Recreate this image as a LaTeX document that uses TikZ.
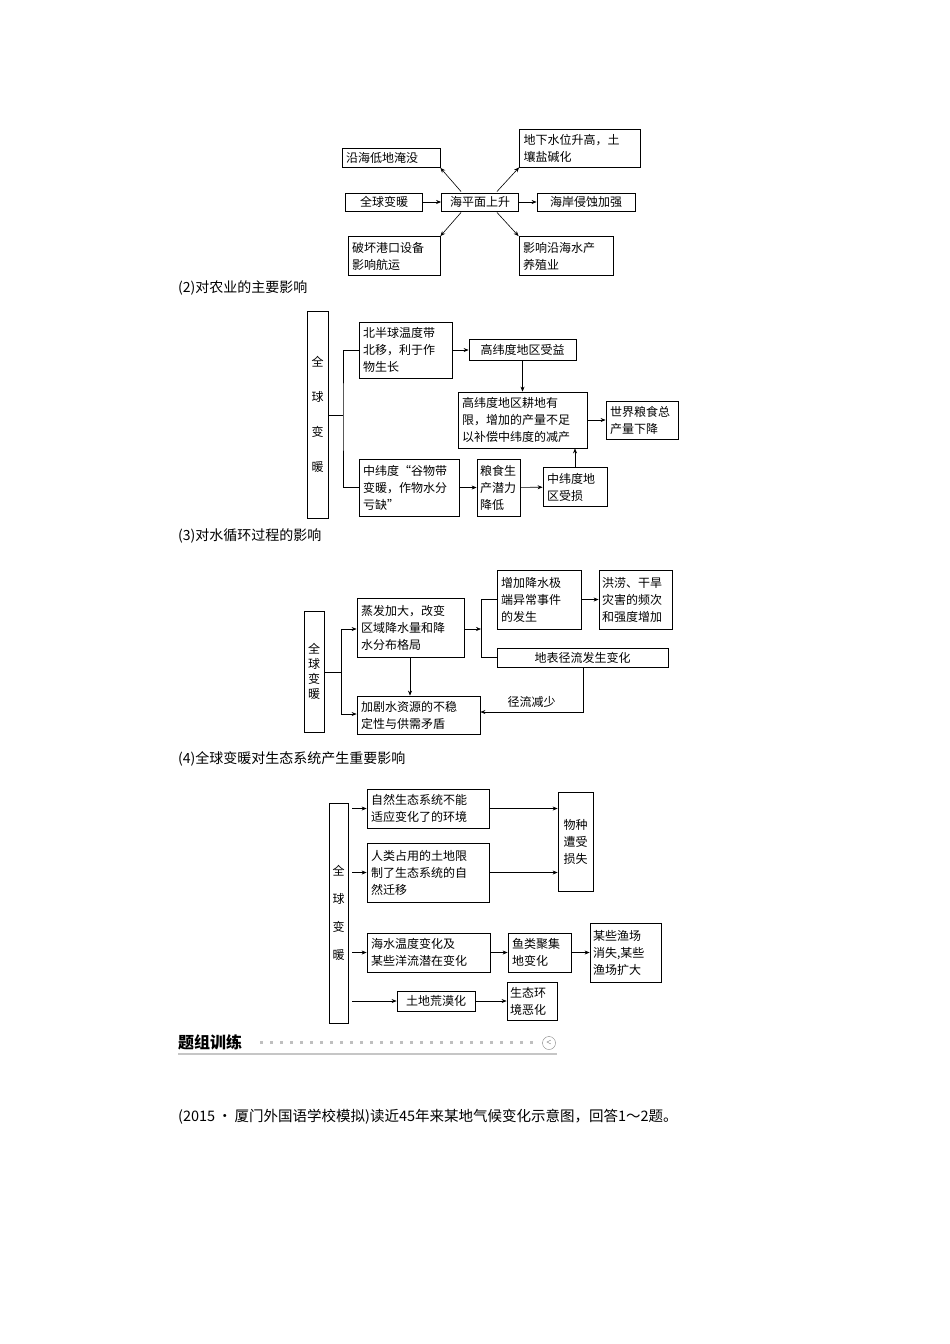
\documentclass[tikz,border=0pt]{standalone}
\usepackage{fontspec}
\setmainfont{Liberation Serif}
\newfontfamily\cjk{Noto Sans CJK SC}
\usetikzlibrary{arrows.meta}
\newcommand{\dg}{\cjk\fontsize{12}{17}\selectfont}
\tikzset{
 bx/.style={draw, line width=0.8pt, inner xsep=4pt, inner ysep=0pt, align=left, font=\dg},
 ar/.style={line width=0.6pt, -{Stealth[length=5pt,width=4pt]}},
 ln/.style={line width=0.6pt},
 captxt/.style={anchor=west, font=\cjk\fontsize{14}{17}\selectfont, inner sep=0}
}
\begin{document}
\begin{tikzpicture}[x=1pt,y=-1pt]
\useasboundingbox (0,0) rectangle (950,1344);
% ---- diagram 1
\node[bx,minimum width=98,minimum height=19,text width=90] (a1) at (391,158) {沿海低地淹没};
\node[bx,minimum width=121,minimum height=38,text width=113] (a2) at (580,148) {地下水位升高，土\\壤盐碱化};
\node[bx,minimum width=77,minimum height=18,align=center] (a3) at (384,202) {全球变暖};
\node[bx,minimum width=77,minimum height=18,align=center] (a4) at (480,202) {海平面上升};
\node[bx,minimum width=98,minimum height=18,align=center] (a5) at (586,202) {海岸侵蚀加强};
\node[bx,minimum width=92,minimum height=39,text width=84] (a6) at (394,256) {破坏港口设备\\影响航运};
\node[bx,minimum width=94,minimum height=39,text width=86] (a7) at (566,256) {影响沿海水产\\养殖业};
\draw[ar] (a3) -- (a4);
\draw[ar] (a4) -- (a5);
\draw[ar] (a4.north west)++(20,-1) -- (a1.south east);
\draw[ar] (a4.north east)++(-22,-1) -- (a2.south west);
\draw[ar] (a4.south west)++(20,1) -- (a6.north east);
\draw[ar] (a4.south east)++(-22,1) -- (a7.north west);
\node[captxt] (c2) at (178,288) {(2)对农业的主要影响};
% ---- diagram 2
\node[bx,minimum width=21,minimum height=207,align=center,inner xsep=0] (b0) at (317.5,414.5) {全\\[18pt]球\\[18pt]变\\[18pt]暖};
\node[bx,minimum width=93,minimum height=56,text width=85] (b1) at (405.5,350) {北半球温度带\\北移，利于作\\物生长};
\node[bx,minimum width=107,minimum height=21,align=center] (b2) at (522.5,350) {高纬度地区受益};
\node[bx,minimum width=129,minimum height=56,text width=121] (b3) at (522.5,420) {高纬度地区耕地有\\限，增加的产量不足\\以补偿中纬度的减产};
\node[bx,minimum width=72,minimum height=38,text width=64] (b4) at (642,420) {世界粮食总\\产量下降};
\node[bx,minimum width=100,minimum height=57,text width=92] (b5) at (409,487.5) {中纬度“谷物带\\变暖，作物水分\\亏缺”};
\node[bx,minimum width=43,minimum height=57,text width=37,inner xsep=3pt] (b6) at (498.5,487.5) {粮食生\\产潜力\\降低};
\node[bx,minimum width=64,minimum height=39,text width=56] (b7) at (575,487) {中纬度地\\区受损};
\coordinate (bt) at (343,415);
\draw[ln] (b0.east |- bt) -- (bt);
\draw[ln] (b1.west) -| (bt) |- (b5.west);
\draw[ar] (b1) -- (b2);
\draw[ar] (b2) -- (b3);
\draw[ar] (b3) -- (b4);
\draw[ar] (b5) -- (b6);
\draw[ar] (b6) -- (b7);
\draw[ar] (b7) -- (b7 |- b3.south);
\node[captxt] (c3) at (178,536) {(3)对水循环过程的影响};
% ---- diagram 3
\node[bx,minimum width=20,minimum height=121,align=center,inner xsep=0,font=\cjk\fontsize{12}{15}\selectfont] (d0) at (314,671.5) {全\\球\\变\\暖};
\node[bx,minimum width=107,minimum height=59,text width=99] (d1) at (410.5,627.5) {蒸发加大，改变\\区域降水量和降\\水分布格局};
\node[bx,minimum width=84,minimum height=59,text width=76] (d2) at (539,599.5) {增加降水极\\端异常事件\\的发生};
\node[bx,minimum width=73,minimum height=59,text width=67,inner xsep=3pt] (d3) at (635.5,599.5) {洪涝、干旱\\灾害的频次\\和强度增加};
\node[bx,minimum width=171,minimum height=19,align=center] (d4) at (582.5,657.5) {地表径流发生变化};
\node[bx,minimum width=123,minimum height=38,text width=115] (d5) at (418.5,715) {加剧水资源的不稳\\定性与供需矛盾};
\coordinate (dt) at (341,672);
\coordinate (dj) at (481,629);
\draw[ln] (d0.east |- dt) -- (dt);
\draw[ar] (dt) |- (d1.west |- 0,629);
\draw[ar] (dt) |- (d5.west |- 0,714);
\draw[ar] (d1.east |- dj) -- (dj);
\draw[ln] (dj |- d2.west) -- (dj |- d4.west);
\draw[ln] (dj |- d2.west) -- (d2.west);
\draw[ln] (dj |- d4.west) -- (d4.west);
\draw[ar] (d2) -- (d3);
\draw[ar] (d1.south -| 410,0) -- (d5.north -| 410,0);
\coordinate (dr) at (583,667);
\draw[ar] (dr) |- node[pos=0.75,above=1pt,font=\dg] {径流减少} (d5.east |- 0,712);
\node[captxt] (c4) at (178,759) {(4)全球变暖对生态系统产生重要影响};
% ---- diagram 4
\node[bx,minimum width=19,minimum height=220,align=center,inner xsep=0] (e0) at (338.5,913) {全\\[11pt]球\\[11pt]变\\[11pt]暖};
\node[bx,minimum width=122,minimum height=39,text width=114] (e1) at (428,808.5) {自然生态系统不能\\适应变化了的环境};
\node[bx,minimum width=122,minimum height=59,text width=114] (e2) at (428,872.5) {人类占用的土地限\\制了生态系统的自\\然迁移};
\node[bx,minimum width=35,minimum height=99,align=center,inner xsep=0] (e3) at (575.5,841.5) {物种\\遭受\\损失};
\node[bx,minimum width=123,minimum height=39,text width=115] (e4) at (428.5,952.5) {海水温度变化及\\某些洋流潜在变化};
\node[bx,minimum width=63,minimum height=39,text width=55] (e5) at (539.5,952.5) {鱼类聚集\\地变化};
\node[bx,minimum width=71,minimum height=59,text width=65,inner xsep=3pt] (e6) at (625.5,952.5) {某些渔场\\消失,某些\\渔场扩大};
\node[bx,minimum width=78,minimum height=20,align=center] (e7) at (436,1001) {土地荒漠化};
\node[bx,minimum width=50,minimum height=38,text width=44,inner xsep=3pt] (e8) at (532,1001) {生态环\\境恶化};
\draw[ar] (e0.east |- e1.west) ++(4,0) -- (e1.west);
\draw[ar] (e0.east |- e2.west) ++(4,0) -- (e2.west);
\draw[ar] (e0.east |- e4.west) ++(4,0) -- (e4.west);
\draw[ar] (e0.east |- e7.west) ++(4,0) -- (e7.west);
\draw[ar] (e1.east) -- (e3.west |- e1.east);
\draw[ar] (e2.east) -- (e3.west |- e2.east);
\draw[ar] (e4) -- (e5);
\draw[ar] (e5) -- (e6);
\draw[ar] (e7) -- (e8);
% ---- heading
\node[anchor=west,inner sep=0,font=\cjk\bfseries\fontsize{16}{18}\selectfont] (h) at (178,1042) {题组训练};
\foreach \i in {0,...,27} {\fill[gray!50] (260+\i*10,1041) rectangle ++(3,3);}
\node[draw=gray,circle,inner sep=0,minimum size=13,font=\fontsize{9}{9}\selectfont,text=gray!60!black] (hc) at (549,1043) {<};
\draw[gray!45,line width=2pt] (178,1054) -- (557,1054);
\node[anchor=west,inner sep=0,font=\cjk\fontsize{14.5}{17}\selectfont] (q) at (178,1117) {(2015\,·\,厦门外国语学校模拟)读近45年来某地气候变化示意图，回答1～2题。};
\end{tikzpicture}
\end{document}
